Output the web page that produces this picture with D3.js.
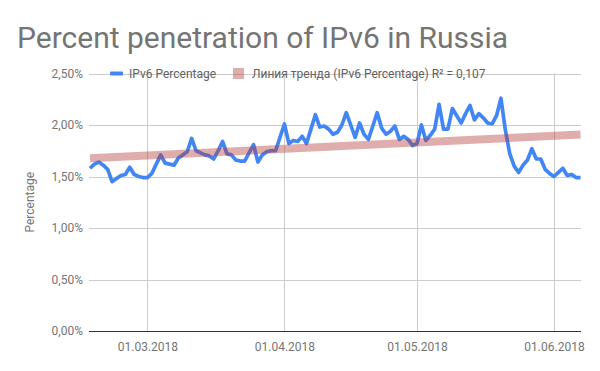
<!DOCTYPE html>
<html>
<head>
<meta charset="utf-8">
<script src="https://cdn.jsdelivr.net/npm/d3@7"></script>
<style>
  html, body { margin: 0; padding: 0; background: #fff; }
  svg { display: block; font-family: Roboto, "Noto Sans", sans-serif; }
</style>
</head>
<body>
<svg id="chart" width="600" height="371"></svg>
<script>
// ---- data ----
const startDate = "2018-02-16";           // first daily observation
const ipv6Percentage = [
  1.58, 1.62, 1.64, 1.61, 1.57, 1.45, 1.48, 1.51, 1.52, 1.59, 1.52, 1.50, 1.49,  // Feb 16 - 28
  1.49, 1.53, 1.62, 1.71, 1.63, 1.62, 1.61, 1.68, 1.71, 1.74, 1.87, 1.75, 1.73,  // Mar 1 - 13
  1.71, 1.70, 1.67, 1.75, 1.84, 1.72, 1.71, 1.66, 1.65, 1.65, 1.73, 1.81, 1.64,  // Mar 14 - 26
  1.71, 1.74, 1.75, 1.75, 1.88,                                                  // Mar 27 - 31
  2.01, 1.82, 1.85, 1.84, 1.89, 1.82, 1.96, 2.10, 1.98, 1.99, 1.96, 1.91, 1.93,  // Apr 1 - 13
  2.00, 2.12, 2.00, 1.88, 2.02, 1.91, 1.86, 1.99, 2.12, 1.97, 1.91, 1.94, 1.99,  // Apr 14 - 26
  1.86, 1.89, 1.86, 1.80,                                                        // Apr 27 - 30
  1.82, 2.00, 1.85, 1.90, 1.96, 2.20, 1.96, 1.96, 2.16, 2.09, 2.02, 2.11, 2.19,  // May 1 - 13
  2.05, 2.11, 2.07, 2.02, 2.01, 2.09, 2.26, 1.95, 1.72, 1.60, 1.54, 1.61, 1.66,  // May 14 - 26
  1.77, 1.67, 1.67, 1.57, 1.53,                                                  // May 27 - 31
  1.50, 1.54, 1.58, 1.51, 1.52, 1.49, 1.49                                       // Jun 1 - 7
];
const xTickDates  = ["2018-03-01", "2018-04-01", "2018-05-01", "2018-06-01"];
const xTickLabels = ["01.03.2018", "01.04.2018", "01.05.2018", "01.06.2018"];
const yTickValues = [0, 0.5, 1.0, 1.5, 2.0, 2.5];
const yTickLabels = ["0,00%", "0,50%", "1,00%", "1,50%", "2,00%", "2,50%"];
const seriesName = "IPv6 Percentage";
const trendName  = "Линия тренда (IPv6 Percentage) R² = 0,107";
const titleText  = "Percent penetration of IPv6 in Russia";
const yAxisTitle = "Percentage";

// ---- setup ----
const parse = d3.utcParse("%Y-%m-%d");
const t0 = parse(startDate);
const dates = ipv6Percentage.map((_, i) => d3.utcDay.offset(t0, i));
const data = dates.map((d, i) => ({ date: d, value: ipv6Percentage[i] }));

const svg = d3.select("#chart");
const plot = { left: 89, right: 581, top: 73.5, bottom: 331 };

const x = d3.scaleUtc()
  .domain([dates[0], dates[dates.length - 1]])
  .range([90, 580.5]);
const y = d3.scaleLinear().domain([0, 2.5]).range([plot.bottom, plot.top]);

// title
svg.append("text")
  .attr("x", 17).attr("y", 48)
  .attr("fill", "#757575")
  .attr("font-size", 30)
  .text(titleText);

// horizontal gridlines
svg.append("g")
  .selectAll("line").data(yTickValues.slice(1)).join("line")
  .attr("x1", plot.left).attr("x2", plot.right)
  .attr("y1", d => Math.round(y(d)) + 0.5).attr("y2", d => Math.round(y(d)) + 0.5)
  .attr("stroke", "#cccccc").attr("stroke-width", 1);

// vertical gridlines
const xTicks = xTickDates.map(parse);
svg.append("g")
  .selectAll("line").data(xTicks).join("line")
  .attr("x1", d => Math.round(x(d)) + 0.5).attr("x2", d => Math.round(x(d)) + 0.5)
  .attr("y1", plot.top).attr("y2", plot.bottom)
  .attr("stroke", "#cccccc").attr("stroke-width", 1);

// y axis labels
const yAxis = d3.axisLeft(y)
  .tickValues(yTickValues)
  .tickFormat((d, i) => yTickLabels[i])
  .tickSize(0).tickPadding(6);
const gy = svg.append("g").attr("transform", `translate(${plot.left},0)`).call(yAxis);
gy.select(".domain").remove();
gy.selectAll("text").attr("fill", "#757575").attr("font-size", 12)
  .attr("font-family", "Roboto, sans-serif");

// x axis labels
const xAxis = d3.axisBottom(x)
  .tickValues(xTicks)
  .tickFormat((d, i) => xTickLabels[i])
  .tickSize(0).tickPadding(11);
const gx = svg.append("g").attr("transform", `translate(0,${plot.bottom})`).call(xAxis);
gx.select(".domain").remove();
gx.selectAll("text").attr("fill", "#757575").attr("font-size", 12)
  .attr("font-family", "Roboto, sans-serif");

// baseline
svg.append("line")
  .attr("x1", plot.left).attr("x2", plot.right)
  .attr("y1", Math.round(y(0)) + 0.5).attr("y2", Math.round(y(0)) + 0.5)
  .attr("stroke", "#333333").attr("stroke-width", 1);

// y axis title
svg.append("text")
  .attr("transform", `translate(34,${(plot.top + plot.bottom) / 2}) rotate(-90)`)
  .attr("text-anchor", "middle")
  .attr("fill", "#757575").attr("font-size", 12)
  .text(yAxisTitle);

// series line
const line = d3.line().x(d => x(d.date)).y(d => y(d.value)).curve(d3.curveLinear);
svg.append("path").datum(data)
  .attr("d", line)
  .attr("fill", "none")
  .attr("stroke", "#4285f4")
  .attr("stroke-width", 3.7)
  .attr("stroke-linejoin", "round");

// linear trend (least squares on the series)
const n = data.length;
const xs = data.map((d, i) => i);
const mx = d3.mean(xs), my = d3.mean(ipv6Percentage);
const slope = d3.sum(xs, (xi, i) => (xi - mx) * (ipv6Percentage[i] - my)) /
              d3.sum(xs, xi => (xi - mx) * (xi - mx));
const intercept = my - slope * mx;
const trend = [0, n - 1].map(i => ({ date: dates[i], value: intercept + slope * i }));
svg.append("path").datum(trend)
  .attr("d", line)
  .attr("fill", "none")
  .attr("stroke", "#b43c3c")
  .attr("stroke-opacity", 0.42)
  .attr("stroke-width", 8);

// legend
const lg = svg.append("g").attr("font-size", 12).attr("fill", "#616161");
lg.append("rect").attr("x", 110).attr("y", 71.5).attr("width", 13).attr("height", 4)
  .attr("rx", 1).attr("fill", "#4285f4");
lg.append("text").attr("x", 129).attr("y", 77.5).text(seriesName);
lg.append("rect").attr("x", 233).attr("y", 68).attr("width", 11).attr("height", 11)
  .attr("fill", "#b43c3c").attr("fill-opacity", 0.42);
lg.append("text").attr("x", 252).attr("y", 77.5).text(trendName);
</script>
</body>
</html>
